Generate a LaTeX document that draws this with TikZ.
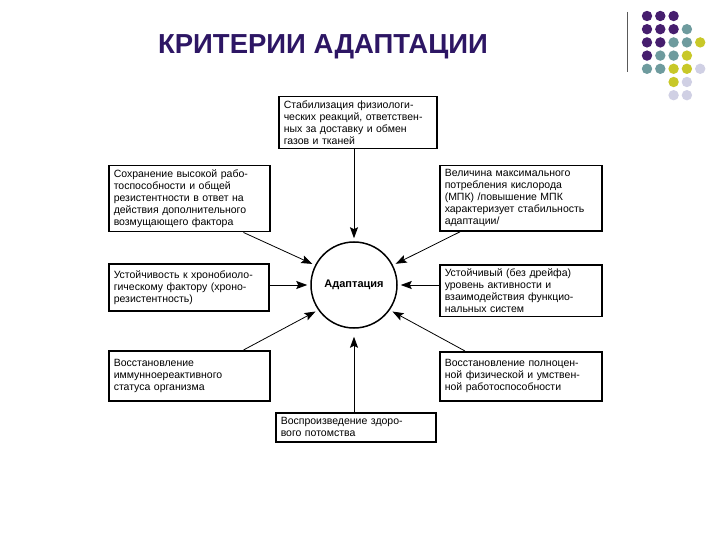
\documentclass[tikz,border=0pt]{standalone}
\usepackage{fontspec}
\setmainfont{Liberation Sans}
\usetikzlibrary{arrows.meta}
\definecolor{titleblue}{RGB}{45,22,100}
\definecolor{dotpurple}{RGB}{70,30,110}
\definecolor{dotteal}{RGB}{110,155,158}
\definecolor{dotyellow}{RGB}{200,200,40}
\definecolor{dotlilac}{RGB}{208,208,228}
\begin{document}
\begin{tikzpicture}[
        x=1pt, y=-1pt,
        >={Stealth[length=11pt, width=8pt, inset=2pt]},
        crit/.style={draw, line width=1.5pt, anchor=north west, align=left,
            inner xsep=5pt, inner ysep=4pt, font=\fontsize{10.5}{12}\selectfont},
        link/.style={->, line width=0.8pt, shorten >=3pt},
        ]
        \useasboundingbox (0,0) rectangle (720,540);

        % Title
        \node[font=\fontsize{27.5}{30}\selectfont\bfseries, text=titleblue] (title) at (323,47) {КРИТЕРИИ АДАПТАЦИИ};

        % Decoration at the top right
        \draw[gray!70!black, line width=1pt] (627,12) -- (627,72);
        \foreach \c/\r/\col in {0/0/dotpurple, 1/0/dotpurple, 2/0/dotpurple,
                0/1/dotpurple, 1/1/dotpurple, 2/1/dotpurple, 3/1/dotteal,
                0/2/dotpurple, 1/2/dotpurple, 2/2/dotteal, 3/2/dotteal, 4/2/dotyellow,
                0/3/dotpurple, 1/3/dotteal, 2/3/dotteal, 3/3/dotyellow,
                0/4/dotteal, 1/4/dotteal, 2/4/dotyellow, 3/4/dotyellow, 4/4/dotlilac,
                2/5/dotyellow, 3/5/dotlilac,
                2/6/dotlilac, 3/6/dotlilac}
            \fill[\col] (647+13.3*\c, 16+13.2*\r) circle (5.2);

        % Centre
        \node[draw, circle, line width=1.5pt, minimum size=86, font=\fontsize{11}{12}\selectfont\bfseries] (adapt) at (354,285) {Адаптация};

        % Criteria
        \node[crit, text width=148, minimum height=52] (stab) at (278,96)
            {Стабилизация физиологи-\\ческих реакций, ответствен-\\ных за доставку и обмен\\газов и тканей};
        \node[crit, text width=151, minimum height=58] (work) at (108,165)
            {Сохранение высокой рабо-\\тоспособности и общей\\резистентности в ответ на\\действия дополнительного\\возмущающего фактора};
        \node[crit, text width=152, minimum height=60] (vo2) at (439,165)
            {Величина максимального\\потребления кислорода\\(МПК) /повышение МПК\\характеризует стабильность\\адаптации/};
        \node[crit, text width=150, minimum height=47] (chrono) at (108,263)
            {Устойчивость к хронобиоло-\\гическому фактору (хроно-\\резистентность)};
        \node[crit, text width=152, minimum height=47] (stable) at (439,264)
            {Устойчивый (без дрейфа)\\уровень активности и\\взаимодействия функцио-\\нальных систем};
        \node[crit, text width=151, minimum height=50] (immun) at (108,350)
            {Восстановление\\иммунноереактивного\\статуса организма};
        \node[crit, text width=152, minimum height=49] (work2) at (439,351)
            {Восстановление полноцен-\\ной физической и умствен-\\ной работоспособности};
        \node[crit, text width=150, minimum height=29] (offspr) at (275,412)
            {Воспроизведение здоро-\\вого потомства};

        % Arrows to the centre
        \draw[link] (stab.south -| adapt) -- (adapt.north);
        \draw[link] ([xshift=-27]work.south east) -- (adapt.153);
        \draw[link] ([xshift=21]vo2.south west) -- (adapt.27);
        \draw[link] (adapt.west -| chrono.east) -- (adapt.west);
        \draw[link] (adapt.east -| stable.west) -- (adapt.east);
        \draw[link] ([xshift=-27]immun.north east) -- (adapt.215);
        \draw[link] ([xshift=26]work2.north west) -- (adapt.325);
        \draw[link, shorten >=8pt] (offspr.north -| adapt) -- (adapt.south);

    \end{tikzpicture}
\end{document}
